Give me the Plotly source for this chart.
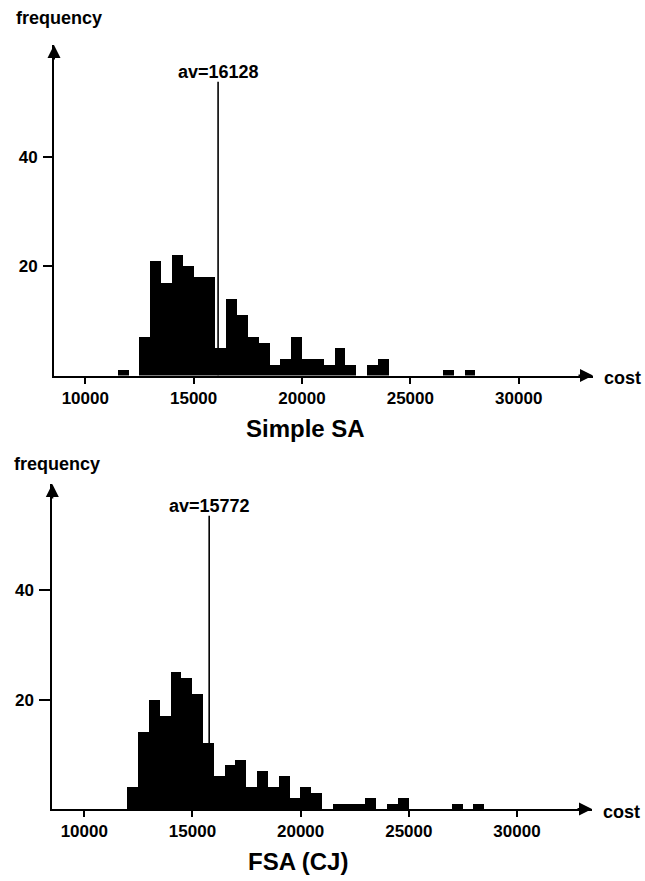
import plotly.graph_objects as go

# ---- data -------------------------------------------------------------
BIN_WIDTH = 500

sa_bin_start = [11500, 12000, 12500, 13000, 13500, 14000, 14500, 15000, 15500,
                16000, 16500, 17000, 17500, 18000, 18500, 19000, 19500, 20000,
                20500, 21000, 21500, 22000, 22500, 23000, 23500, 24000, 24500,
                25000, 25500, 26000, 26500, 27000, 27500]
sa_counts = [1, 0, 7, 21, 17, 22, 20, 18, 18,
             5, 14, 11, 7, 6, 2, 3, 7, 3,
             3, 2, 5, 2, 0, 2, 3, 0, 0,
             0, 0, 0, 1, 0, 1]
sa_average = 16128

fsa_bin_start = [12000, 12500, 13000, 13500, 14000, 14500, 15000, 15500, 16000,
                 16500, 17000, 17500, 18000, 18500, 19000, 19500, 20000, 20500,
                 21000, 21500, 22000, 22500, 23000, 23500, 24000, 24500, 25000,
                 25500, 26000, 26500, 27000, 27500, 28000]
fsa_counts = [4, 14, 20, 17, 25, 24, 21, 12, 6,
              8, 9, 4, 7, 4, 6, 2, 4, 3,
              0, 1, 1, 1, 2, 0, 1, 2, 0,
              0, 0, 0, 1, 0, 1]
fsa_average = 15772

x_ticks = [10000, 15000, 20000, 25000, 30000]
y_ticks = [20, 40]

# ---- page geometry (pixels) -------------------------------------------
W, H = 645, 881
FONT = "Liberation Sans"
BLACK = "black"


def fx(px):
    return px / W


def fy(py):
    return 1 - py / H


panels = [
    dict(title="Simple SA", bins=sa_bin_start, counts=sa_counts, avg=sa_average,
         left_px=54.0, right_px=593.0, zero_px=375.5, top_px=45.0,
         ref_px=85.3, px_per_1000=21.67, px_per_unit=5.47, line_top=53.7,
         title_pos=(305, 428), freq_pos=(14, 18), cost_pos=(602, 378),
         ticklen_y=9),
    dict(title="FSA (CJ)", bins=fsa_bin_start, counts=fsa_counts, avg=fsa_average,
         left_px=52.3, right_px=592.0, zero_px=809.0, top_px=484.0,
         ref_px=84.3, px_per_1000=21.635, px_per_unit=5.47, line_top=53.6,
         title_pos=(298, 861), freq_pos=(12, 464), cost_pos=(601, 812),
         ticklen_y=11),
]

fig = go.Figure()
annotations = []
shapes = []
layout_axes = {}

for i, p in enumerate(panels, start=1):
    xa = "x" if i == 1 else f"x{i}"
    ya = "y" if i == 1 else f"y{i}"
    x_min = 10000 + (p["left_px"] - p["ref_px"]) / p["px_per_1000"] * 1000
    x_max = 10000 + (p["right_px"] - p["ref_px"]) / p["px_per_1000"] * 1000
    y_max = (p["zero_px"] - p["top_px"]) / p["px_per_unit"]

    centers = [b + BIN_WIDTH / 2 for b in p["bins"]]
    fig.add_trace(go.Bar(
        x=centers, y=p["counts"], width=BIN_WIDTH,
        marker=dict(color=BLACK, line=dict(width=0)),
        xaxis=xa, yaxis=ya, showlegend=False, hoverinfo="x+y",
    ))

    tickfont = dict(family=FONT, size=17, color=BLACK, weight="bold")
    layout_axes["xaxis" if i == 1 else f"xaxis{i}"] = dict(
        domain=[fx(p["left_px"]), fx(p["right_px"])],
        range=[x_min, x_max], anchor=ya,
        showline=True, linecolor=BLACK, linewidth=2,
        ticks="outside", ticklen=6, tickwidth=2, tickcolor=BLACK,
        tickvals=x_ticks, ticktext=[str(v) for v in x_ticks],
        tickfont=tickfont, showgrid=False, zeroline=False,
        ticklabelstandoff=0,
    )
    layout_axes["yaxis" if i == 1 else f"yaxis{i}"] = dict(
        domain=[fy(p["zero_px"]), fy(p["top_px"])],
        range=[0, y_max], anchor=xa,
        showline=True, linecolor=BLACK, linewidth=2,
        ticks="outside", ticklen=p["ticklen_y"], tickwidth=1.5, tickcolor=BLACK,
        tickvals=y_ticks, ticktext=[str(v) for v in y_ticks],
        tickfont=tickfont, showgrid=False, zeroline=False,
        ticklabelstandoff=2,
    )

    # average marker line and its label
    shapes.append(dict(type="line", xref=xa, yref=ya,
                       x0=p["avg"], x1=p["avg"], y0=0, y1=p["line_top"],
                       line=dict(color=BLACK, width=1.6)))
    annotations.append(dict(
        x=p["avg"], y=p["line_top"], xref=xa, yref=ya,
        text=f"av={p['avg']}", showarrow=False, yanchor="bottom", yshift=-2,
        font=dict(family=FONT, size=18, color=BLACK, weight="bold"),
    ))

    # arrowheads on both axes
    annotations.append(dict(
        x=x_max, y=0, xref=xa, yref=ya, text="", showarrow=True,
        ax=-16, ay=0, arrowhead=2, arrowsize=1.3, arrowwidth=2,
        arrowcolor=BLACK, standoff=0,
    ))
    annotations.append(dict(
        x=x_min, y=y_max, xref=xa, yref=ya, text="", showarrow=True,
        ax=0, ay=16, arrowhead=2, arrowsize=1.3, arrowwidth=2,
        arrowcolor=BLACK, standoff=0,
    ))

    # axis names and panel title
    annotations.append(dict(
        x=fx(p["freq_pos"][0]), y=fy(p["freq_pos"][1]), xref="paper", yref="paper",
        text="frequency", showarrow=False, xanchor="left", yanchor="middle",
        font=dict(family=FONT, size=18, color=BLACK, weight="bold"),
    ))
    annotations.append(dict(
        x=fx(p["cost_pos"][0]), y=fy(p["cost_pos"][1]), xref="paper", yref="paper",
        text="cost", showarrow=False, xanchor="left", yanchor="middle",
        font=dict(family=FONT, size=18, color=BLACK, weight="bold"),
    ))
    annotations.append(dict(
        x=fx(p["title_pos"][0]), y=fy(p["title_pos"][1]), xref="paper", yref="paper",
        text=p["title"], showarrow=False, xanchor="center", yanchor="middle",
        font=dict(family=FONT, size=24, color=BLACK, weight="bold"),
    ))

fig.update_layout(
    width=W, height=H,
    margin=dict(l=0, r=0, t=0, b=0),
    paper_bgcolor="white", plot_bgcolor="white",
    bargap=0, showlegend=False,
    annotations=annotations, shapes=shapes,
    **layout_axes,
)

fig.write_html("out.html")
